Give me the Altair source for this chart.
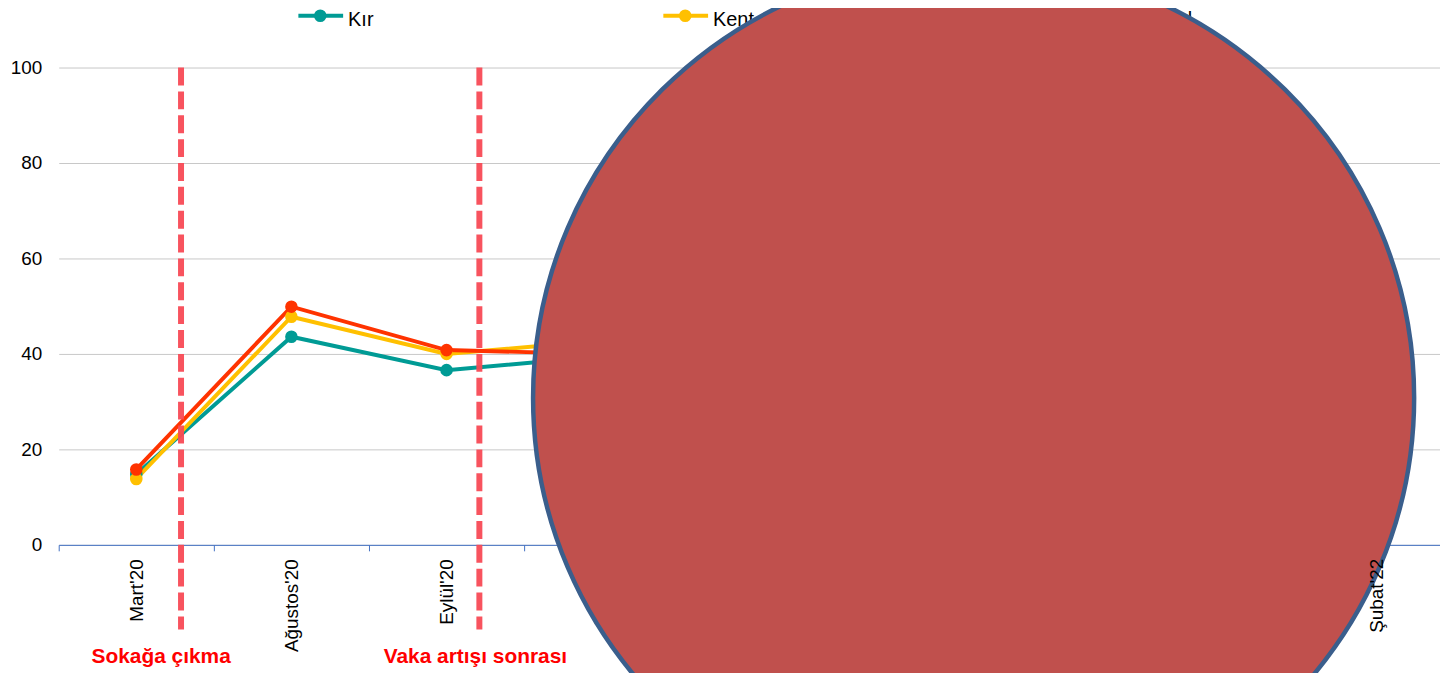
import altair as alt
import pandas as pd

# ---- data ----
categories = ["Mart'20", "Ağustos'20", "Eylül'20", "Ekim'20", "Şubat'21",
              "Haziran'21", "Eylül'21", "Aralık'21", "Şubat'22"]
series = ["Kır", "Kent", "Metropol"]
kir = [14.8, 43.6, 36.6, 39.5, 41.0, 44.0, 46.5, 43.0, 45.0]
kent = [13.8, 47.8, 40.0, 42.8, 44.5, 47.0, 49.0, 46.0, 48.0]
metropol = [15.8, 49.9, 40.8, 40.0, 43.0, 47.5, 50.5, 47.0, 49.0]
colors = ["#009B95", "#FFC000", "#FF3300"]
y_ticks = [0, 20, 40, 60, 80, 100]
annot_cats = ["Mart'20", "Eylül'20"]
annot_texts = ["Sokağa çıkma", "Vaka artışı sonrası"]
legend_slots = [0, 1, 2]
front_label = ["Şubat'22"]  # tick label that sits in front of the overlay

rows = []
for name, vals in zip(series, [kir, kent, metropol]):
    for c, v in zip(categories, vals):
        rows.append({"kat": c, "seri": name, "deger": v})
df = pd.DataFrame(rows)

FONT = "Liberation Sans"
W, H = 1389, 480

xscale = alt.Scale(type="band", domain=categories, range=[0, 1404],
                   paddingInner=0, paddingOuter=0)
cscale = alt.Scale(domain=series, range=colors)

hide_expr = "datum.value === \"" + front_label[0] + "\" ? '' : datum.label"

lines = alt.Chart(df).mark_line(
    strokeWidth=4,
    point=alt.OverlayMarkDef(size=160, filled=True, opacity=1),
).encode(
    x=alt.X("kat:N", sort=categories, scale=xscale, title=None,
            axis=alt.Axis(labelAngle=-90, tickBand="extent", domainColor="#4472C4",
                          tickColor="#4472C4", tickSize=6, labelPadding=8,
                          labelFont=FONT, labelFontSize=19, labelColor="#000000",
                          grid=False, domainWidth=1, labelExpr=hide_expr)),
    y=alt.Y("deger:Q", scale=alt.Scale(domain=[0, 100]), title=None,
            axis=alt.Axis(values=y_ticks, domain=False, ticks=False, labelPadding=17,
                          labelFont=FONT, labelFontSize=19, labelColor="#000000",
                          gridColor="#C8C8C8", gridWidth=1)),
    color=alt.Color("seri:N", scale=cscale, legend=None),
)

def vrule(cat, off):
    return alt.Chart(pd.DataFrame({"kat": [cat]})).mark_rule(
        strokeWidth=6, strokeDash=[18, 6], color="#F84A55", xOffset=off, opacity=0.95
    ).encode(
        x=alt.X("kat:N", scale=xscale, axis=None),
        y=alt.datum(100),
        y2=alt.value(565),
    )

def vtext(cat, txt, off):
    return alt.Chart(pd.DataFrame({"kat": [cat], "t": [txt]})).mark_text(
        font=FONT, fontSize=21, fontWeight="bold", color="#FF0000",
        align="center", baseline="alphabetic", xOffset=off
    ).encode(
        x=alt.X("kat:N", scale=xscale, axis=None),
        y=alt.value(599),
        text="t:N",
    )

rule1 = vrule(annot_cats[0], 45)
rule2 = vrule(annot_cats[1], 33)
text1 = vtext(annot_cats[0], annot_texts[0], 25)
text2 = vtext(annot_cats[1], annot_texts[1], 29)

leg_df = pd.DataFrame({"seri": series, "slot": legend_slots})
leg_x = alt.X("slot:Q", scale=alt.Scale(domain=[0, 1, 2], range=[241, 608, 1012]), axis=None)
leg_rule = alt.Chart(leg_df).mark_rule(strokeWidth=4, x2Offset=45).encode(
    x=leg_x, x2="slot:Q", y=alt.value(-52),
    color=alt.Color("seri:N", scale=cscale, legend=None))
leg_point = alt.Chart(leg_df).mark_point(filled=True, size=160, opacity=1, xOffset=22).encode(
    x=leg_x, y=alt.value(-52),
    color=alt.Color("seri:N", scale=cscale, legend=None))
leg_text = alt.Chart(leg_df).mark_text(
    align="left", baseline="middle", xOffset=50, font=FONT, fontSize=20, color="#000000"
).encode(x=leg_x, y=alt.value(-48), text="seri:N")

# slightly flattened ellipse overlay (custom SVG path in unit coordinates)
ellipse_path = "M-1,0A1,0.9887,0,1,1,1,0A1,0.9887,0,1,1,-1,0Z"
circle = alt.Chart(pd.DataFrame({"a": [0]})).mark_point(
    shape=ellipse_path, filled=True, size=784996, fill="#C0504D", stroke="#3A5E8C",
    strokeWidth=4.5, opacity=1, fillOpacity=1, strokeOpacity=1
).encode(x=alt.value(920), y=alt.value(332))

# last tick label drawn in front of the overlay, as in the picture
front = alt.Chart(pd.DataFrame({"kat": front_label})).mark_text(
    angle=270, align="right", baseline="middle", font=FONT, fontSize=19, color="#000000"
).encode(
    x=alt.X("kat:N", scale=xscale, axis=None),
    y=alt.value(H + 14),
    text="kat:N",
)

chart = alt.layer(
    lines, rule1, rule2, text1, text2, leg_rule, leg_point, leg_text, circle, front
).resolve_scale(x="independent").properties(
    width=W, height=H,
    autosize=alt.AutoSizeParams(type="none"),
    padding={"left": 51, "top": 58, "right": 0, "bottom": 127},
    background="white",
).configure_view(stroke=None)

chart.save("out.html", embed_options={"renderer": "svg", "actions": False})
